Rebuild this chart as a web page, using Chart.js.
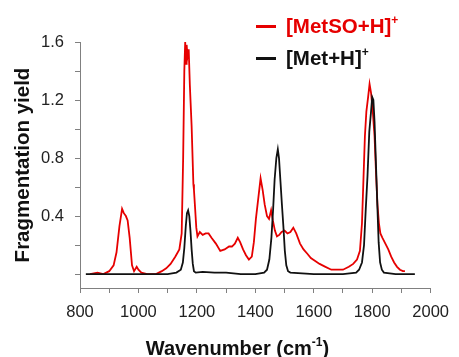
<!DOCTYPE html>
<html>
<head>
<meta charset="utf-8">
<script src="https://cdn.jsdelivr.net/npm/chart.js@4.4.1/dist/chart.umd.min.js"></script>
<style>
    html, body { margin: 0; padding: 0; background: #fff; }
    #wrap { position: relative; width: 459px; height: 357px; overflow: hidden; font-family: "Liberation Sans", Arial, sans-serif; }
    #chart { position: absolute; left: 0; top: 0; }
    .leg { position: absolute; left: 256px; height: 24px; font-weight: bold; font-size: 20.5px; line-height: 20px; white-space: nowrap; }
    .leg i { position: absolute; left: 0; top: 8.5px; width: 20px; height: 3px; }
    .leg span { position: absolute; left: 30px; top: 0; }
    .leg sup, #xtitle sup { font-size: 12px; vertical-align: baseline; position: relative; top: -9px; }
    #xtitle { position: absolute; left: 0; top: 338px; width: 475px; text-align: center; font-weight: bold; font-size: 20px; line-height: 20px; color: #111; white-space: nowrap; }
</style>
</head>
<body>
<div id="wrap">
    <canvas id="chart" width="459" height="357"></canvas>
    <div class="leg" style="top:16px; color:#e60000;"><i style="background:#e60000"></i><span>[MetSO+H]<sup>+</sup></span></div>
    <div class="leg" style="top:48px; color:#111;"><i style="background:#111"></i><span>[Met+H]<sup>+</sup></span></div>
    <div id="xtitle">Wavenumber (cm<sup>-1</sup>)</div>
</div>
<script>
// IRMPD spectra
const wnMetSO = [834, 860, 880, 900, 915, 925, 935, 944, 950, 957, 963, 970, 978, 985, 994, 1000, 1010, 1030, 1060, 1080,
    1095, 1110, 1126, 1140, 1148, 1153, 1157, 1160, 1163, 1165, 1168, 1172, 1176, 1182, 1188, 1190, 1194, 1198, 1202, 1210,
    1220, 1230, 1240, 1250, 1265, 1280, 1295, 1310, 1320, 1330, 1340, 1348, 1358, 1368, 1378, 1388, 1395, 1402, 1410, 1418,
    1425, 1432, 1440, 1447, 1454, 1460, 1467, 1474, 1482, 1490, 1500, 1510, 1520, 1530, 1540, 1553, 1565, 1578, 1590, 1605,
    1620, 1640, 1660, 1680, 1700, 1720, 1735, 1748, 1758, 1765, 1770, 1775, 1780, 1786, 1791, 1796, 1802, 1808, 1813, 1818,
    1823, 1828, 1835, 1845, 1855, 1865, 1875, 1885, 1895, 1905, 1912];
const yieldMetSO = [0.00, 0.01, 0.00, 0.02, 0.06, 0.15, 0.33, 0.45, 0.42, 0.40, 0.37, 0.25, 0.06, 0.02, 0.05, 0.03, 0.01, 0.00, 0.00, 0.02,
    0.04, 0.07, 0.12, 0.17, 0.28, 0.80, 1.40, 1.60, 1.45, 1.58, 1.50, 1.55, 1.30, 1.02, 0.62, 0.58, 0.45, 0.32, 0.26, 0.29,
    0.27, 0.28, 0.28, 0.25, 0.21, 0.16, 0.17, 0.19, 0.19, 0.21, 0.25, 0.22, 0.17, 0.13, 0.10, 0.12, 0.22, 0.38, 0.52, 0.66,
    0.58, 0.48, 0.40, 0.38, 0.44, 0.37, 0.30, 0.26, 0.27, 0.29, 0.30, 0.28, 0.29, 0.32, 0.28, 0.21, 0.17, 0.14, 0.11, 0.09,
    0.07, 0.05, 0.03, 0.03, 0.03, 0.05, 0.07, 0.10, 0.16, 0.35, 0.65, 0.95, 1.12, 1.22, 1.31, 1.25, 1.12, 0.95, 0.70, 0.48,
    0.35, 0.28, 0.25, 0.21, 0.17, 0.12, 0.08, 0.05, 0.03, 0.02, 0.02];

const wnMet = [820, 900, 1000, 1100, 1130, 1145, 1152, 1157, 1162, 1166, 1170, 1174, 1178, 1182, 1186, 1190, 1196, 1220, 1260, 1300,
    1350, 1400, 1430, 1440, 1448, 1455, 1461, 1466, 1472, 1477, 1481, 1486, 1491, 1496, 1501, 1506, 1512, 1520, 1600, 1700,
    1745, 1755, 1765, 1772, 1778, 1784, 1790, 1796, 1800, 1804, 1808, 1813, 1818, 1822, 1827, 1833, 1840, 1880, 1946];
const yieldMet = [0.00, 0.00, 0.00, 0.00, 0.01, 0.03, 0.08, 0.18, 0.33, 0.42, 0.44, 0.40, 0.30, 0.17, 0.07, 0.02, 0.01, 0.015, 0.01, 0.01,
    0.00, 0.00, 0.01, 0.03, 0.10, 0.25, 0.45, 0.65, 0.80, 0.86, 0.80, 0.64, 0.48, 0.33, 0.16, 0.06, 0.02, 0.01, 0.00, 0.00,
    0.01, 0.03, 0.08, 0.20, 0.45, 0.68, 0.98, 1.12, 1.22, 1.20, 1.05, 0.75, 0.45, 0.22, 0.08, 0.03, 0.01, 0.00, 0.00];

const xTicks = [800, 900, 1000, 1100, 1200, 1300, 1400, 1500, 1600, 1700, 1800, 1900, 2000];
const xLabelled = [800, 1000, 1200, 1400, 1600, 1800, 2000];
const yTicks = [0, 0.2, 0.4, 0.6, 0.8, 1.0, 1.2, 1.4, 1.6];
const yLabelled = [0.4, 0.8, 1.2, 1.6];

const RED = '#e60000';
const BLACK = '#111';
const AXIS = '#808080';

function toPoints(xs, ys) {
    return xs.map((x, i) => ({ x: x, y: ys[i] }));
}

const tickFont = { family: '"Liberation Sans", Arial, sans-serif', size: 16.5 };

new Chart(document.getElementById('chart'), {
    type: 'line',
    data: {
        datasets: [
            { label: '[MetSO+H]+', data: toPoints(wnMetSO, yieldMetSO), borderColor: RED, borderWidth: 1.8, order: 2 },
            { label: '[Met+H]+', data: toPoints(wnMet, yieldMet), borderColor: BLACK, borderWidth: 1.8, order: 1 }
        ]
    },
    options: {
        responsive: false,
        animation: false,
        devicePixelRatio: 1,
        elements: { point: { radius: 0 }, line: { tension: 0 } },
        layout: { padding: { top: 42, right: 23, left: 0, bottom: 0 } },
        plugins: { legend: { display: false }, tooltip: { enabled: false } },
        scales: {
            x: {
                type: 'linear',
                min: 800,
                max: 2000,
                afterBuildTicks: (scale) => { scale.ticks = xTicks.map(v => ({ value: v })); },
                afterFit: (scale) => { scale.height = 69; },
                grid: { drawOnChartArea: false, drawTicks: true, tickLength: 5, color: AXIS },
                border: { color: AXIS, width: 1 },
                ticks: {
                    autoSkip: false,
                    maxRotation: 0,
                    padding: 10,
                    color: '#222',
                    font: tickFont,
                    callback: (v) => xLabelled.includes(v) ? String(v) : ''
                }
            },
            y: {
                min: -0.096,
                max: 1.6,
                afterBuildTicks: (scale) => { scale.ticks = yTicks.map(v => ({ value: v })); },
                afterFit: (scale) => { scale.width = 80; },
                grid: { drawOnChartArea: false, drawTicks: true, tickLength: 5, color: AXIS },
                border: { color: AXIS, width: 1 },
                ticks: {
                    autoSkip: false,
                    padding: 11,
                    color: '#222',
                    font: tickFont,
                    callback: (v) => yLabelled.some(l => Math.abs(l - v) < 1e-6) ? v.toFixed(1) : ''
                },
                title: {
                    display: true,
                    text: 'Fragmentation yield',
                    color: '#111',
                    font: { family: '"Liberation Sans", Arial, sans-serif', size: 20.5, weight: 'bold' },
                    padding: { top: 11, bottom: 0 }
                }
            }
        }
    }
});
</script>
</body>
</html>
